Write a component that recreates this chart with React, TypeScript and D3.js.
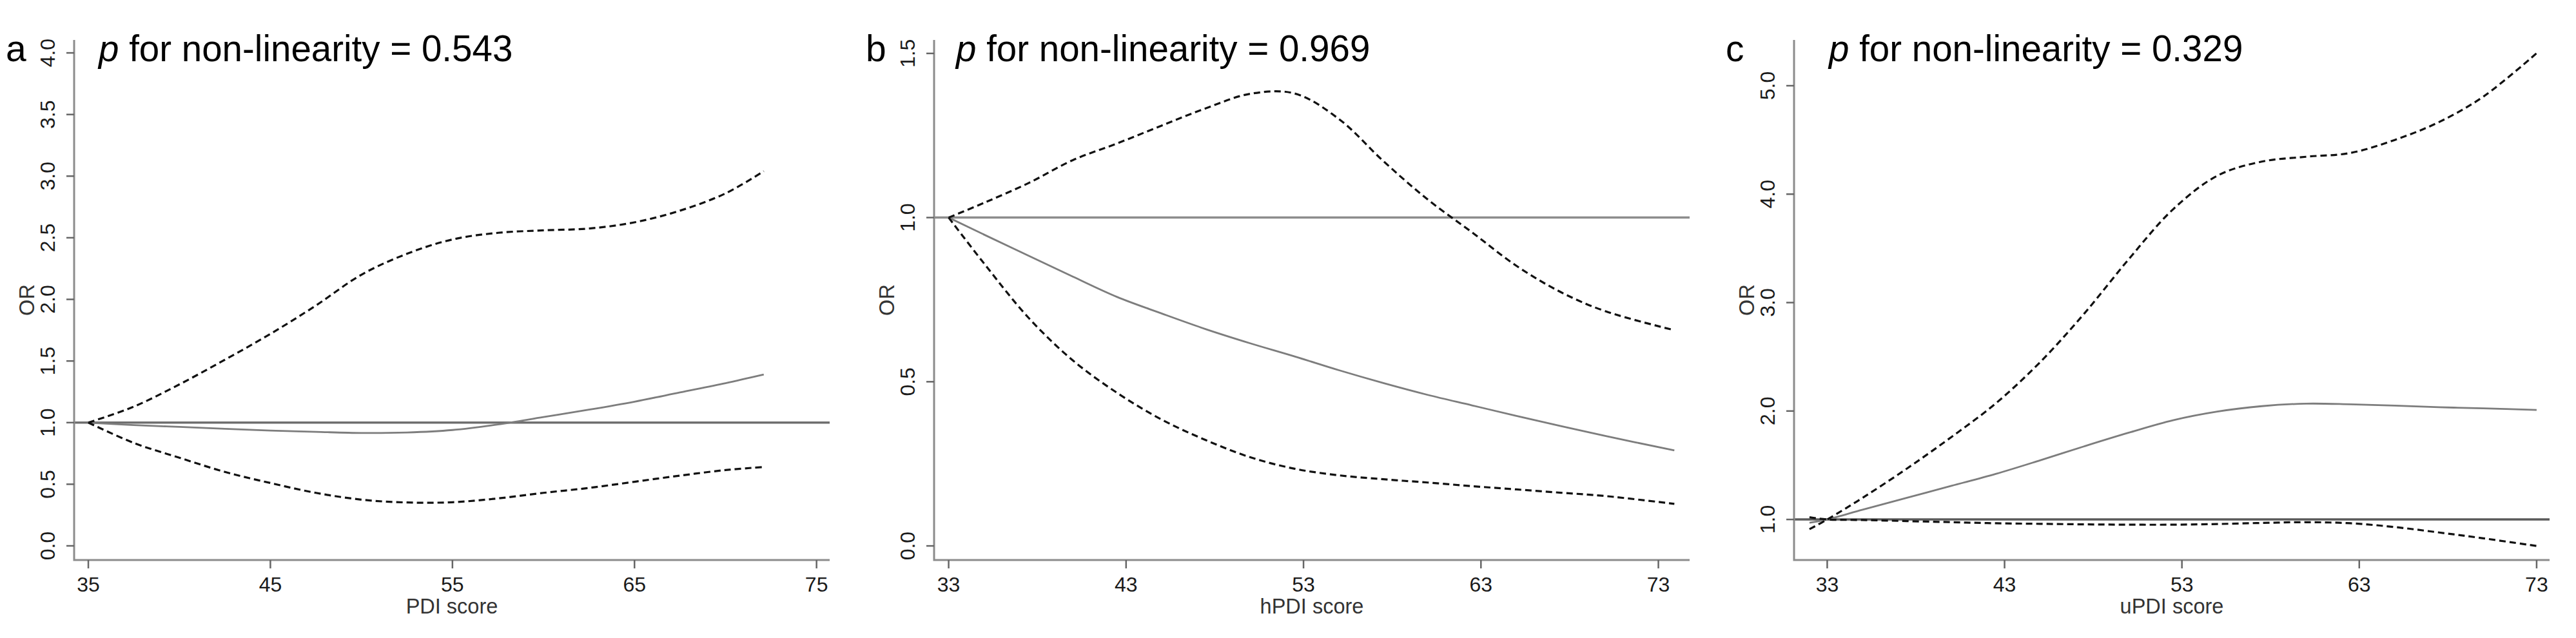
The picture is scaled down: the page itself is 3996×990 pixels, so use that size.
import React from 'react';
import * as d3 from 'd3';

// ---------- data ----------
const aX = [35, 37.5, 40, 42.5, 45, 47.5, 50, 52.5, 55, 57.5, 60, 62.5, 65, 67.5, 70, 72.1];
const aUpper = [1.0, 1.13, 1.31, 1.51, 1.72, 1.95, 2.2, 2.37, 2.486, 2.54, 2.56, 2.575, 2.625, 2.72, 2.86, 3.04];
const aEst = [1.0, 0.98, 0.965, 0.95, 0.935, 0.925, 0.916, 0.92, 0.94, 0.985, 1.045, 1.105, 1.17, 1.245, 1.32, 1.39];
const aLower = [1.0, 0.835, 0.715, 0.6, 0.51, 0.43, 0.375, 0.352, 0.354, 0.385, 0.43, 0.47, 0.52, 0.57, 0.615, 0.64];
const aXTicks = [35, 45, 55, 65, 75];
const aYTicks = [0, 0.5, 1, 1.5, 2, 2.5, 3, 3.5, 4];

const bX = [33, 35, 37.5, 40, 42.5, 45, 47.5, 50, 52.5, 55, 57.5, 60, 62.5, 65, 67.5, 70, 73.9];
const bUpper = [1.0, 1.045, 1.105, 1.175, 1.226, 1.28, 1.333, 1.377, 1.378, 1.3, 1.172, 1.055, 0.955, 0.853, 0.773, 0.715, 0.657];
const bEst = [1.0, 0.948, 0.884, 0.82, 0.758, 0.708, 0.66, 0.617, 0.577, 0.535, 0.496, 0.46, 0.428, 0.396, 0.365, 0.335, 0.291];
const bLower = [1.0, 0.86, 0.695, 0.565, 0.466, 0.385, 0.322, 0.27, 0.235, 0.215, 0.203, 0.193, 0.182, 0.172, 0.162, 0.152, 0.128];
const bXTicks = [33, 43, 53, 63, 73];
const bYTicks = [0, 0.5, 1, 1.5];

const cX = [32, 33, 35, 37.5, 40, 42.5, 45, 47.5, 50, 52.5, 55, 57.5, 60, 62.5, 65, 67.5, 70, 73];
const cUpper = [0.91, 1.0, 1.2, 1.47, 1.76, 2.07, 2.45, 2.9, 3.4, 3.86, 4.17, 4.3, 4.345, 4.38, 4.5, 4.665, 4.9, 5.3];
const cEst = [0.97, 1.0, 1.09, 1.2, 1.31, 1.42, 1.545, 1.675, 1.8, 1.915, 1.995, 2.045, 2.068, 2.062, 2.05, 2.035, 2.025, 2.01];
const cLower = [1.02, 1.0, 0.995, 0.985, 0.975, 0.965, 0.96, 0.955, 0.952, 0.952, 0.958, 0.968, 0.975, 0.965, 0.93, 0.88, 0.826, 0.756];
const cXTicks = [33, 43, 53, 63, 73];
const cYTicks = [1, 2, 3, 4, 5];

const letters = ['a', 'b', 'c'];
const pValues = ['0.543', '0.969', '0.329'];
const xLabels = ['PDI score', 'hPDI score', 'uPDI score'];
const yLabel = 'OR';

// ---------- layout ----------
const W = 3996;
const H = 990;
const TOP = 62;
const BOTTOM = 869;
const PLOT_W = 1172;
const FONT = '"Liberation Sans", Arial, Helvetica, sans-serif';

const panels = [
  {
    x: aX, upper: aUpper, est: aEst, lower: aLower, xTicks: aXTicks, yTicks: aYTicks,
    xDomain: [34.22, 75.72], yDomain: [-0.115, 4.105], left: 115, titleDx: 38, refColor: '#6f6f6f',
  },
  {
    x: bX, upper: bUpper, est: bEst, lower: bLower, xTicks: bXTicks, yTicks: bYTicks,
    xDomain: [32.18, 74.76], yDomain: [-0.043, 1.541], left: 1449, titleDx: 34, refColor: '#8c8c8c',
  },
  {
    x: cX, upper: cUpper, est: cEst, lower: cLower, xTicks: cXTicks, yTicks: cYTicks,
    xDomain: [31.13, 73.73], yDomain: [0.626, 5.422], left: 2783, titleDx: 54, refColor: '#5a5a5a',
  },
];

function Panel({ p, i }: { p: any; i: number }) {
  const xs = d3.scaleLinear().domain(p.xDomain).range([p.left, p.left + PLOT_W]);
  const ys = d3.scaleLinear().domain(p.yDomain).range([BOTTOM, TOP]);
  const line = d3
    .line<number>()
    .x((_, k) => xs(p.x[k]))
    .y((d) => ys(d))
    .curve(d3.curveCatmullRom.alpha(0.5));
  const fmt = d3.format('.1f');
  const axisColor = '#8c8c8c';
  return (
    <g>
      {/* letter and title */}
      <text x={p.left - 106} y={95} fontSize={57} fontFamily={FONT} fill="#000">
        {letters[i]}
      </text>
      <text x={p.left + p.titleDx} y={95} fontSize={56.5} fontFamily={FONT} fill="#000">
        <tspan fontStyle="italic">p</tspan>
        <tspan>{` for non-linearity = ${pValues[i]}`}</tspan>
      </text>

      {/* reference line */}
      <line x1={p.left} x2={p.left + PLOT_W} y1={ys(1)} y2={ys(1)} stroke={p.refColor} strokeWidth={3.5} />

      {/* curves */}
      <path d={line(p.est) || ''} fill="none" stroke="#7d7d7d" strokeWidth={2.8} />
      <path d={line(p.upper) || ''} fill="none" stroke="#111" strokeWidth={3.2} strokeDasharray="10,6" />
      <path d={line(p.lower) || ''} fill="none" stroke="#111" strokeWidth={3.2} strokeDasharray="10,6" />

      {/* axes */}
      <path
        d={`M${p.left},${TOP}V${BOTTOM}H${p.left + PLOT_W}`}
        fill="none"
        stroke={axisColor}
        strokeWidth={3}
      />
      {p.yTicks.map((t: number) => (
        <g key={'y' + t}>
          <line x1={p.left - 12} x2={p.left} y1={ys(t)} y2={ys(t)} stroke="#666" strokeWidth={2.5} />
          <text
            transform={`translate(${p.left - 30},${ys(t)}) rotate(-90)`}
            textAnchor="middle"
            fontSize={32}
            fontFamily={FONT}
            fill="#1a1a1a"
          >
            {fmt(t)}
          </text>
        </g>
      ))}
      {p.xTicks.map((t: number) => (
        <g key={'x' + t}>
          <line x1={xs(t)} x2={xs(t)} y1={BOTTOM} y2={BOTTOM + 13} stroke="#666" strokeWidth={2.5} />
          <text x={xs(t)} y={BOTTOM + 49} textAnchor="middle" fontSize={32} fontFamily={FONT} fill="#1a1a1a">
            {t}
          </text>
        </g>
      ))}
      <text
        x={p.left + PLOT_W / 2}
        y={BOTTOM + 83}
        textAnchor="middle"
        fontSize={32.5}
        fontFamily={FONT}
        fill="#333"
      >
        {xLabels[i]}
      </text>
      <text
        transform={`translate(${p.left - 62},${(TOP + BOTTOM) / 2}) rotate(-90)`}
        textAnchor="middle"
        fontSize={32.5}
        fontFamily={FONT}
        fill="#333"
      >
        {yLabel}
      </text>
    </g>
  );
}

export default function App() {
  return (
    <svg
      width={W}
      height={H}
      viewBox={`0 0 ${W} ${H}`}
      style={{ position: 'absolute', left: 0, top: 0, background: '#fff' }}
    >
      <rect x={0} y={0} width={W} height={H} fill="#fff" />
      {panels.map((p, i) => (
        <Panel key={i} p={p} i={i} />
      ))}
    </svg>
  );
}
